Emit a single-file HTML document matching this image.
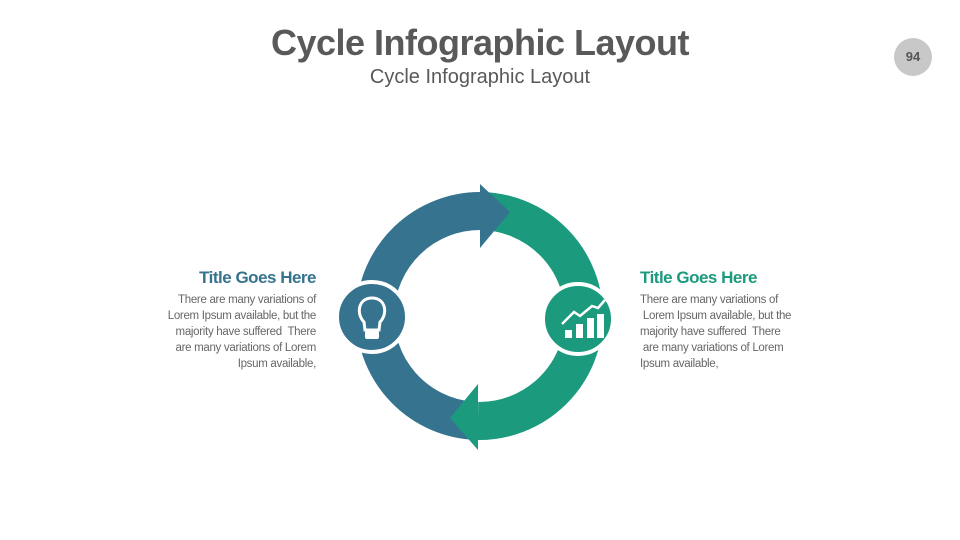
<!DOCTYPE html>
<html><head><style>
body{margin:0;width:960px;height:540px;background:#fff;position:relative;overflow:hidden;font-family:"Liberation Sans",sans-serif}
.t{position:absolute;left:0;width:960px;text-align:center}
.p{position:absolute;font-size:11.5px;line-height:16px;color:#666;font-family:"Liberation Sans",sans-serif;letter-spacing:-0.3px}
.h{position:absolute;font-size:17px;font-weight:bold;letter-spacing:-0.5px}
</style></head><body>
<div class="t" style="top:22px;font-size:36px;font-weight:bold;color:#595959;letter-spacing:-0.5px">Cycle Infographic Layout</div>
<div class="t" style="top:66px;font-size:20px;color:#595959">Cycle Infographic Layout</div>
<div style="position:absolute;left:894px;top:38px;width:38px;height:38px;border-radius:50%;background:#c8c8c8;color:#555;font-weight:bold;font-size:13px;text-align:center;line-height:38px">94</div>
<svg style="position:absolute;left:0;top:0" width="960" height="540">
<path d="M471 420.6 A105 105 0 0 1 480 211" fill="none" stroke="#36738e" stroke-width="38"/>
<path d="M480 211 A105 105 0 1 1 478 421" fill="none" stroke="#1b9a7e" stroke-width="38"/>
<polygon points="478,384 478,450 450,418" fill="#1b9a7e"/>
<polygon points="480,184 480,248 510,212" fill="#36738e"/>
<circle cx="372" cy="317" r="35" fill="#36738e" stroke="#fff" stroke-width="4"/>
<circle cx="578" cy="319" r="35" fill="#1b9a7e" stroke="#fff" stroke-width="4"/>
<path d="M364 322 C356 314 358 298 372 298 C386 298 388 314 380 322 L379 330 L365 330 Z" fill="none" stroke="#fff" stroke-width="3"/>
<rect x="365" y="331" width="14" height="8" rx="2" fill="#fff"/>
<rect x="565" y="330" width="7" height="8" fill="#fff"/>
<rect x="576" y="324" width="7" height="14" fill="#fff"/>
<rect x="587" y="318" width="7" height="20" fill="#fff"/>
<rect x="597" y="314" width="7" height="24" fill="#fff"/>
<polyline points="562,324 574,312 580,316 592,306 598,308 605,300" fill="none" stroke="#fff" stroke-width="2.5"/>
</svg>
<div class="h" style="right:644px;top:268px;color:#36738e">Title Goes Here</div>
<div class="p" style="right:644px;top:292px;text-align:right;width:180px">There are many variations of<br>Lorem Ipsum available, but the<br>majority have suffered&nbsp; There<br>are many variations of Lorem<br>Ipsum available,</div>
<div class="h" style="left:640px;top:268px;color:#1b9a7e">Title Goes Here</div>
<div class="p" style="left:640px;top:292px;width:180px">There are many variations of<br>&nbsp;Lorem Ipsum available, but the<br>majority have suffered&nbsp; There<br>&nbsp;are many variations of Lorem<br>Ipsum available,</div>
</body></html>
